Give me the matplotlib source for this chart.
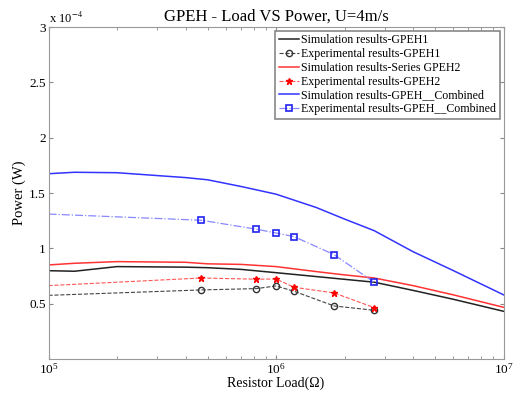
import matplotlib
matplotlib.use('Agg')
import matplotlib.pyplot as plt

plt.rcParams['font.family'] = ['Liberation Serif', 'DejaVu Serif']
plt.rcParams['mathtext.fontset'] = 'stix'

# Simulation curves (power in units of 1e-4 W)
r_sim = [1e5, 1.3e5, 2e5, 4e5, 5e5, 7e5, 1e6, 1.5e6, 2e6, 2.7e6, 4e6, 6e6, 1e7]
p_sim_gpeh1 = [0.798, 0.793, 0.835, 0.83, 0.825, 0.81, 0.78, 0.745, 0.72, 0.694, 0.62, 0.54, 0.431]
p_sim_gpeh2 = [0.85, 0.865, 0.88, 0.874, 0.86, 0.855, 0.835, 0.79, 0.76, 0.732, 0.663, 0.58, 0.467]
p_sim_comb = [1.675, 1.688, 1.684, 1.64, 1.62, 1.56, 1.49, 1.37, 1.265, 1.16, 0.97, 0.80, 0.58]

# Experimental measurements
r_exp = [1e5, 4.7e5, 8.2e5, 1e6, 1.2e6, 1.8e6, 2.7e6]
p_exp_gpeh1 = [0.575, 0.624, 0.636, 0.66, 0.612, 0.479, 0.44]
p_exp_gpeh2 = [0.663, 0.732, 0.721, 0.723, 0.648, 0.597, 0.464]
p_exp_comb = [1.31, 1.254, 1.173, 1.139, 1.106, 0.943, 0.693]

fig = plt.figure(figsize=(5.22, 3.94), dpi=100)
ax = fig.add_axes([0.093, 0.089, 0.8716, 0.842])

mk = slice(1, None)
ax.plot(r_sim, p_sim_gpeh1, '-', color='#222222', lw=1.1, label='Simulation results-GPEH1')
ax.plot(r_exp, p_exp_gpeh1, '--', color='#444444', lw=0.8, marker='o', ms=4.5,
        mfc='none', mec='#333333', markevery=mk, label='Experimental results-GPEH1')
ax.plot(r_sim, p_sim_gpeh2, '-', color='#ff3333', lw=1.1, label='Simulation results-Series GPEH2')
ax.plot(r_exp, p_exp_gpeh2, '--', color='#ff5555', lw=0.8, marker='*', ms=5,
        mfc='#ff0000', mec='#ff0000', markevery=mk, label='Experimental results-GPEH2')
ax.plot(r_sim, p_sim_comb, '-', color='#3333ff', lw=1.1, label='Simulation results-GPEH__Combined')
ax.plot(r_exp, p_exp_comb, '-.', color='#8888ff', lw=0.9, marker='s', ms=4,
        mfc='none', mec='#2222ee', mew=1.2, markevery=mk, label='Experimental results-GPEH__Combined')

ax.set_xscale('log')
ax.set_xlim(1e5, 1e7)
ax.set_ylim(0, 3)
ax.set_yticks([0.5, 1, 1.5, 2, 2.5, 3])
ax.set_yticklabels(['0.5', '1', '1.5', '2', '2.5', '3'])
ax.tick_params(which='both', direction='in', top=True, right=True, labelsize=9.5,
               color='#888888', length=3, pad=2)
ax.tick_params(axis='x', pad=2)
ax.tick_params(which='minor', length=2)
for s in ax.spines.values():
    s.set_color('#999999')

ax.text(0.0, 1.005, r'x 10$^{-4}$', transform=ax.transAxes, fontsize=9, ha='left', va='bottom')
ax.set_title('GPEH - Load VS Power, U=4m/s', fontsize=12, pad=5)
ax.set_xlabel('Resistor Load(\u03a9)', fontsize=10, labelpad=0)
ax.set_ylabel('Power (W)', fontsize=10.5, labelpad=2)

leg = ax.legend(loc='upper right', fontsize=8.6, handlelength=1.7, handletextpad=0.2,
                labelspacing=0.15, borderpad=0.3, fancybox=False, framealpha=1,
                borderaxespad=0.3)
leg.get_frame().set_edgecolor('#888888')
leg.get_frame().set_linewidth(1.2)

fig.savefig('out.png', dpi=100)
